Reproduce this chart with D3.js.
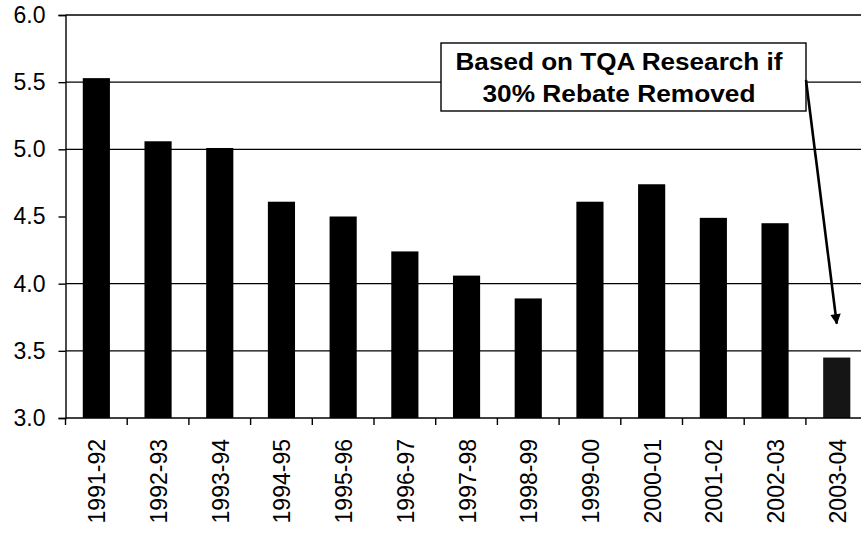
<!DOCTYPE html>
<html>
<head>
<meta charset="utf-8">
<script src="https://cdn.jsdelivr.net/npm/d3@7"></script>
<style>
  body { margin: 0; background: #fff; }
  svg { display: block; font-family: "Liberation Sans", Arial, sans-serif; }
</style>
</head>
<body>
<svg id="chart" width="861" height="544"></svg>
<script>
// chart data
var years = ["1991-92","1992-93","1993-94","1994-95","1995-96","1996-97","1997-98",
  "1998-99","1999-00","2000-01","2001-02","2002-03","2003-04"];
var values = [5.53, 5.06, 5.01, 4.61, 4.50, 4.24, 4.06, 3.89, 4.61, 4.74, 4.49, 4.45, 3.45];
var yTicks = [3.0, 3.5, 4.0, 4.5, 5.0, 5.5, 6.0];
// the 4.5 gridline is missing in the original
var gridLines = [3.5, 4.0, 5.0, 5.5, 6.0];
var noteLines = ["Based on TQA Research if", "30% Rebate Removed"];

var svg = d3.select("#chart");
var plotLeft = 65.5, plotTop = 15, plotBottom = 418, step = 61.7;

var x = d3.scaleBand()
  .domain(years)
  .range([plotLeft, plotLeft + step * years.length]);

var y = d3.scaleLinear()
  .domain([3, 6])
  .range([plotBottom, plotTop]);

// gridlines
svg.append("g").selectAll("line")
  .data(gridLines)
  .join("line")
  .attr("x1", plotLeft).attr("x2", 861)
  .attr("y1", function(d) { return y(d); })
  .attr("y2", function(d) { return y(d); })
  .attr("stroke", "#000")
  .attr("stroke-width", 1.4);

// bars
var bw = x.bandwidth() * 0.44;
svg.append("g").selectAll("rect")
  .data(values)
  .join("rect")
  .attr("x", function(d, i) { return x(years[i]) + (x.bandwidth() - bw) / 2; })
  .attr("y", function(d) { return y(d); })
  .attr("width", bw)
  .attr("height", function(d) { return y(3) - y(d); })
  .attr("fill", function(d, i) { return i == years.length - 1 ? "#151515" : "#000"; });

// y axis
var yAxis = svg.append("g")
  .attr("transform", "translate(" + plotLeft + ",0)")
  .call(d3.axisLeft(y).tickValues(yTicks).tickFormat(d3.format(".1f")).tickSize(7).tickPadding(13));
yAxis.select(".domain").attr("stroke-width", 1.4);
yAxis.selectAll(".tick line").attr("stroke-width", 1.4);
yAxis.selectAll("text").attr("font-size", 23).attr("font-family", "Liberation Sans, Arial, sans-serif").attr("fill", "#000");

// x axis: ticks at category boundaries
var xAxis = svg.append("g").attr("transform", "translate(0," + plotBottom + ")");
xAxis.append("line")
  .attr("x1", plotLeft).attr("x2", 861)
  .attr("stroke", "#000").attr("stroke-width", 1.4);
xAxis.selectAll(".tk")
  .data(years)
  .join("line")
  .attr("class", "tk")
  .attr("x1", function(d) { return x(d); })
  .attr("x2", function(d) { return x(d); })
  .attr("y1", 0).attr("y2", 7)
  .attr("stroke", "#000").attr("stroke-width", 1.4);
xAxis.selectAll("text")
  .data(years)
  .join("text")
  .attr("transform", function(d) {
    return "translate(" + (x(d) + x.bandwidth() / 2 + 9) + ",21) rotate(-90)";
  })
  .attr("text-anchor", "end")
  .attr("font-size", 23)
  .text(function(d) { return d; });

// annotation
var box = { x: 441, y: 43, w: 365, h: 68 };
var noteWidths = [327, 273];
svg.append("rect")
  .attr("x", box.x).attr("y", box.y)
  .attr("width", box.w).attr("height", box.h)
  .attr("fill", "#fff").attr("stroke", "#000").attr("stroke-width", 1.4);
svg.append("g").selectAll("text")
  .data(noteLines)
  .join("text")
  .attr("x", function(d, i) { return 619 - noteWidths[i] / 2; })
  .attr("y", function(d, i) { return 70 + i * 32; })
  .attr("textLength", function(d, i) { return noteWidths[i]; })
  .attr("lengthAdjust", "spacingAndGlyphs")
  .attr("font-weight", "bold")
  .attr("font-size", 23)
  .text(function(d) { return d; });

svg.append("defs").append("marker")
  .attr("id", "arrow")
  .attr("viewBox", "0 0 10 10")
  .attr("refX", 9).attr("refY", 5)
  .attr("markerWidth", 4.5).attr("markerHeight", 4)
  .attr("orient", "auto")
  .append("path").attr("d", "M0,0 L10,5 L0,10 Z").attr("fill", "#000");

var last = years.length - 1;
svg.append("line")
  .attr("x1", box.x + box.w).attr("y1", 80)
  .attr("x2", x(years[last]) + x.bandwidth() / 2)
  .attr("y2", y(values[last]) - 34)
  .attr("stroke", "#000").attr("stroke-width", 2.6)
  .attr("marker-end", "url(#arrow)");
</script>
</body>
</html>
